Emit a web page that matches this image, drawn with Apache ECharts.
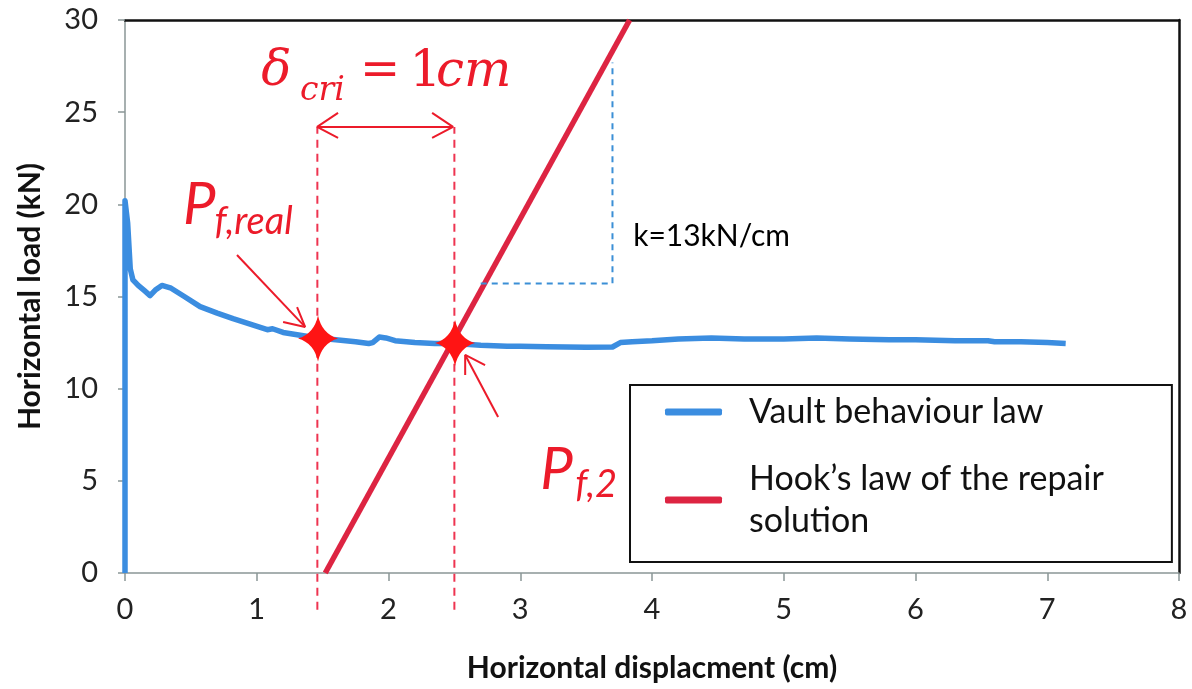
<!DOCTYPE html>
<html>
<head>
<meta charset="utf-8">
<script src="https://cdn.jsdelivr.net/npm/echarts@6/dist/echarts.min.js"></script>
<style>
  html, body { margin: 0; padding: 0; background: #fff; }
  #myChart { width: 1192px; height: 689px; }
</style>
</head>
<body>
<div id="myChart"></div>
<script>
// vault behaviour law (displacement cm, load kN)
const vaultDisp = [0, 0, 0.02, 0.04, 0.06, 0.1, 0.15, 0.19, 0.23, 0.28, 0.35, 0.45, 0.57, 0.7, 0.82, 0.95, 1.08, 1.12, 1.2, 1.33, 1.46, 1.6, 1.75, 1.85, 1.88, 1.93, 1.98, 2.05, 2.2, 2.35, 2.5, 2.7, 2.9, 3.0, 3.2, 3.5, 3.7, 3.76, 3.85, 4.0, 4.2, 4.45, 4.7, 5.0, 5.25, 5.5, 5.8, 6.0, 6.3, 6.55, 6.6, 6.8, 7.0, 7.14];
const vaultLoad = [0, 20.2, 19.0, 16.5, 15.9, 15.6, 15.3, 15.05, 15.35, 15.6, 15.45, 15.0, 14.45, 14.1, 13.8, 13.5, 13.2, 13.25, 13.05, 12.9, 12.75, 12.65, 12.55, 12.45, 12.5, 12.8, 12.75, 12.6, 12.5, 12.45, 12.45, 12.35, 12.3, 12.3, 12.28, 12.25, 12.26, 12.5, 12.55, 12.6, 12.7, 12.75, 12.7, 12.7, 12.75, 12.7, 12.65, 12.65, 12.6, 12.6, 12.55, 12.55, 12.5, 12.45];

// Hook's law of the repair solution, k = 13 kN/cm
const hookDisp = [1.52, 3.83];
const hookLoad = [0, 30];

// failure points
const starDisp = [1.465, 2.505];
const starLoad = [12.72, 12.48];

// annotation geometry (data units)
const critLines = [1.46, 2.5];
const critTop = 24.2;
const critBottom = -2;
const slopeTriangle = [[2.7, 15.7], [3.7, 15.7], [3.7, 27.7]];
const dimArrow = [[1.617, 24.96], [1.458, 24.2], [1.617, 23.6], [1.458, 24.2], [2.49, 24.2], [2.331, 24.96], [2.49, 24.2], [2.331, 23.6]];
const arrowReal = [[0.85, 17.25], [1.367, 13.35], [1.2, 13.62], [1.367, 13.35], [1.306, 14.43]];
const arrowTwo = [[2.832, 8.46], [2.582, 11.83], [2.582, 10.74], [2.582, 11.83], [2.733, 11.28]];

const xTicks = { min: 0, max: 8, step: 1 };
const yTicks = { min: 0, max: 30, step: 5 };

const RED = "#ec1b2a";
const BLUE = "#3b8de0";

// text notes: [x, y, text, size, italic, serif, colour]
const notes = [
  [1.035, 27.18, "δ", 50, true, true, RED],
  [1.329, 26.15, "cri", 33, true, true, RED],
  [1.784, 27.13, "=", 48, false, true, RED],
  [2.16, 27.13, "1", 50, false, true, RED],
  [2.36, 27.13, "cm", 50, true, true, RED],
  [0.44, 19.95, "P", 58, true, false, RED],
  [0.68, 19.05, "f,real", 38, true, false, RED],
  [3.151, 5.59, "P", 58, true, false, RED],
  [3.417, 4.8, "f,2", 38, true, false, RED],
  [3.857, 18.28, "k=13kN/cm", 30, false, false, "#000"]
];

function pairs(xs, ys) {
  return xs.map((x, i) => [x, ys[i]]);
}

function thinLine(data, color, type) {
  return {
    type: "line",
    data: data,
    symbol: "none",
    clip: false,
    silent: true,
    z: 5,
    lineStyle: { color: color, width: 2, type: type || "solid" }
  };
}

const chart = echarts.init(document.getElementById("myChart"));

let seriesData = [
  {
    name: "Vault behaviour law",
    type: "line",
    data: pairs(vaultDisp, vaultLoad),
    symbol: "none",
    z: 3,
    itemStyle: { color: BLUE },
    lineStyle: { color: BLUE, width: 5.5, join: "round" }
  },
  {
    name: "Hook’s law of the repair\nsolution",
    type: "line",
    data: pairs(hookDisp, hookLoad),
    symbol: "none",
    z: 4,
    itemStyle: { color: "#dd2442" },
    lineStyle: { color: "#dd2442", width: 5.5 }
  },
  thinLine(slopeTriangle, "#3b8fd6", [6, 5])
];

critLines.forEach(x => {
  seriesData.push(thinLine([[x, critBottom], [x, critTop]], "#ee3450", [8, 6]));
});
seriesData.push(thinLine(dimArrow, RED));
seriesData.push(thinLine(arrowReal.slice(0, 2), RED));
seriesData.push(thinLine(arrowReal.slice(2), RED));
seriesData.push(thinLine(arrowTwo.slice(0, 2), RED));
seriesData.push(thinLine(arrowTwo.slice(2), RED));

// 4 point stars
seriesData.push({
  type: "scatter",
  data: pairs(starDisp, starLoad),
  symbol: "path://M50,0 Q60,40 100,50 Q60,60 50,100 Q40,60 0,50 Q40,40 50,0Z",
  symbolSize: [40, 46],
  itemStyle: { color: "#ff1414", opacity: 1 },
  silent: true,
  z: 6
});

// text labels
seriesData.push({
  type: "scatter",
  symbolSize: 0,
  silent: true,
  clip: false,
  z: 7,
  itemStyle: { opacity: 1 },
  data: notes.map(n => ({
    value: [n[0], n[1]],
    label: {
      show: true,
      position: [0, 0],
      align: "left",
      verticalAlign: "middle",
      formatter: n[2],
      fontSize: n[3],
      fontStyle: n[4] ? "italic" : "normal",
      fontFamily: n[5] ? "DejaVu Serif" : "Lato",
      color: n[6]
    }
  }))
});

chart.setOption({
  backgroundColor: "#fff",
  animation: false,
  textStyle: { fontFamily: "Lato" },
  grid: { left: 125, right: 13, top: 20, bottom: 116 },
  legend: {
    data: ["Vault behaviour law", "Hook’s law of the repair\nsolution"],
    orient: "vertical",
    left: 630,
    top: 385,
    padding: [6, 68, 20, 35],
    itemGap: 25,
    itemWidth: 57,
    itemHeight: 7,
    icon: "roundRect",
    borderColor: "#111",
    borderWidth: 2,
    selectedMode: false,
    textStyle: {
      fontFamily: "Lato",
      fontSize: 34,
      lineHeight: 42,
      color: "#111",
      padding: [0, 0, 0, 22]
    }
  },
  xAxis: [
    {
      type: "value",
      min: xTicks.min,
      max: xTicks.max,
      interval: xTicks.step,
      name: "Horizontal displacment (cm)",
      nameLocation: "middle",
      nameGap: 80,
      nameTextStyle: { fontFamily: "Lato", fontWeight: "bold", fontSize: 30, color: "#111" },
      axisLine: { show: true, onZero: false, lineStyle: { color: "#8a9696", width: 1.5 } },
      axisTick: { show: true, length: 8, lineStyle: { color: "#8a9696", width: 1.5 } },
      axisLabel: { fontSize: 29, color: "#222", margin: 22 },
      splitLine: { show: false }
    },
    {
      type: "value",
      position: "top",
      min: xTicks.min,
      max: xTicks.max,
      axisLine: { show: true, onZero: false, lineStyle: { color: "#111", width: 2.5 } },
      axisTick: { show: false },
      axisLabel: { show: false },
      splitLine: { show: false }
    }
  ],
  yAxis: [
    {
      type: "value",
      min: yTicks.min,
      max: yTicks.max,
      interval: yTicks.step,
      name: "Horizontal load (kN)",
      nameLocation: "middle",
      nameGap: 80,
      nameTextStyle: { fontFamily: "Lato", fontWeight: "bold", fontSize: 30, color: "#111" },
      axisLine: { show: true, onZero: false, lineStyle: { color: "#8a9696", width: 1.5 } },
      axisTick: { show: true, length: 7, lineStyle: { color: "#8a9696", width: 1.5 } },
      axisLabel: { fontSize: 29, color: "#222", margin: 27 },
      splitLine: { show: false }
    },
    {
      type: "value",
      position: "right",
      min: yTicks.min,
      max: yTicks.max,
      axisLine: { show: true, onZero: false, lineStyle: { color: "#111", width: 2.5 } },
      axisTick: { show: false },
      axisLabel: { show: false },
      splitLine: { show: false }
    }
  ],
  series: seriesData
});
</script>
</body>
</html>
